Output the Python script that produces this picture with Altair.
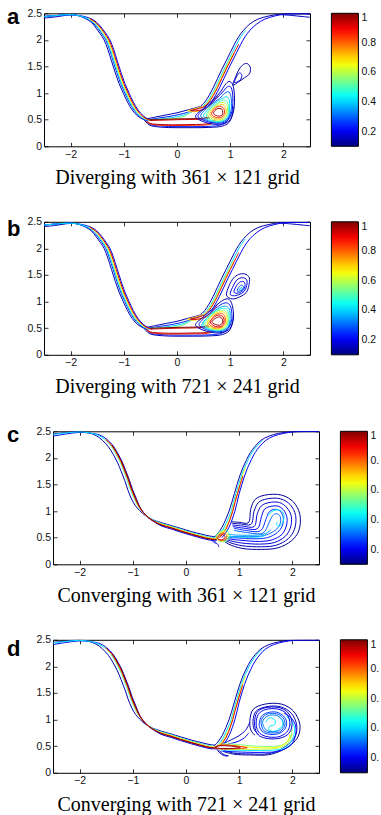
import altair as alt
import pandas as pd

# ---------------- colour map (jet) and ticks ----------------
JET_COLORS = ["#00007f", "#0000ff", "#00ffff", "#ffff00", "#ff0000", "#7f0000"]
JET_STOPS = [0.1, 0.2125, 0.4375, 0.6625, 0.8875, 1.0]
CBAR_TICKS = [0.2, 0.4, 0.6, 0.8, 1.0]
X_TICKS = [-2, -1, 0, 1, 2]
Y_TICKS = [0, 0.5, 1, 1.5, 2, 2.5]
TITLES = ["Diverging with 361 \u00d7 121 grid", "Diverging with 721 \u00d7 241 grid",
          "Converging with 361 \u00d7 121 grid", "Converging with 721 \u00d7 241 grid"]
LETTERS = ["a", "b", "c", "d"]

# ---------------- panels a / b : interface branches ----------------
AB_LB_Y = [2.44, 2.46, 2.475, 2.45, 2.40, 2.33, 2.22, 2.11, 2.0, 1.82, 1.6, 1.38, 1.18, 1.0, 0.83, 0.68, 0.57, 0.51, 0.485]
AB_LB_X_RED = [-2.5, -2.25, -2.0, -1.8, -1.64, -1.53, -1.43, -1.35, -1.28, -1.21, -1.14, -1.07, -1.0, -0.92, -0.84, -0.75, -0.65, -0.56, -0.48]
AB_LB_X_YEL = [-2.5, -2.25, -2.0, -1.81, -1.66, -1.55, -1.45, -1.37, -1.3, -1.23, -1.16, -1.09, -1.02, -0.94, -0.86, -0.77, -0.67, -0.58, -0.49]
AB_LB_X_CYA = [-2.5, -2.25, -2.0, -1.82, -1.68, -1.57, -1.47, -1.39, -1.32, -1.25, -1.18, -1.11, -1.04, -0.96, -0.88, -0.79, -0.69, -0.6, -0.51]
AB_LB_X_BL2 = [-2.5, -2.25, -2.0, -1.83, -1.7, -1.59, -1.49, -1.41, -1.34, -1.27, -1.2, -1.13, -1.06, -0.98, -0.9, -0.81, -0.71, -0.62, -0.52]
AB_LB_X_BL1 = [-2.5, -2.25, -2.0, -1.84, -1.72, -1.61, -1.52, -1.44, -1.37, -1.3, -1.23, -1.16, -1.09, -1.01, -0.93, -0.84, -0.74, -0.64, -0.54]
AB_LB_X_LOW = [-2.5, -2.25, -2.0, -1.79, -1.62, -1.51, -1.41, -1.33, -1.26, -1.19, -1.12, -1.05, -0.98, -0.9, -0.82, -0.73, -0.63, -0.54, -0.46]

AB_RB_Y = [2.49, 2.49, 2.485, 2.45, 2.39, 2.3, 2.18, 2.06, 1.92, 1.76, 1.6, 1.44, 1.27, 1.1, 0.95, 0.83, 0.75]
AB_RB_X_RED = [2.5, 2.2, 2.0, 1.8, 1.6, 1.45, 1.33, 1.24, 1.16, 1.08, 1.0, 0.92, 0.84, 0.76, 0.68, 0.6, 0.52]
AB_RB_X_YEL = [2.5, 2.2, 1.99, 1.78, 1.58, 1.43, 1.31, 1.22, 1.14, 1.06, 0.98, 0.9, 0.82, 0.74, 0.66, 0.58, 0.5]
AB_RB_X_CYA = [2.5, 2.2, 1.97, 1.76, 1.56, 1.41, 1.29, 1.2, 1.12, 1.04, 0.96, 0.88, 0.8, 0.72, 0.64, 0.56, 0.48]
AB_RB_X_BL1 = [2.5, 2.2, 1.95, 1.73, 1.52, 1.37, 1.25, 1.16, 1.08, 1.0, 0.92, 0.84, 0.76, 0.68, 0.6, 0.52, 0.44]
AB_RB_X_LOW = [2.5, 2.2, 2.03, 1.84, 1.65, 1.5, 1.37, 1.28, 1.2, 1.12, 1.04, 0.96, 0.88, 0.8, 0.72, 0.65, 0.6]

AB_TOPL_X = [-2.5, -2.3, -2.1, -1.95]
AB_TOPL_Y = [2.41, 2.43, 2.46, 2.475]
AB_TOPR_X = [1.95, 2.15, 2.35, 2.5]
AB_TOPR_Y = [2.475, 2.46, 2.44, 2.425]

AB_BOT_TOP_X = [-0.5, -0.3, 0.0, 0.3, 0.5, 0.62]
AB_BOT_TOP_Y = [0.485, 0.49, 0.5, 0.505, 0.515, 0.53]
AB_BOT_TOP2_X = [-0.52, -0.3, 0.0, 0.3, 0.5, 0.6]
AB_BOT_TOP2_Y = [0.5, 0.505, 0.515, 0.52, 0.53, 0.55]
AB_BOT_BOT_X = [-0.56, -0.5, -0.3, 0.0, 0.3, 0.55, 0.65, 0.7]
AB_BOT_BOT_Y = [0.47, 0.43, 0.41, 0.405, 0.41, 0.42, 0.45, 0.5]
AB_BOT_BOT2_X = [-0.58, -0.5, -0.3, 0.0, 0.3, 0.58, 0.68, 0.73]
AB_BOT_BOT2_Y = [0.47, 0.42, 0.395, 0.39, 0.395, 0.405, 0.44, 0.5]
AB_BOT_LOW1_X = [-0.6, -0.5, -0.3, 0.0, 0.3, 0.6, 0.8, 0.92, 0.98, 1.0]
AB_BOT_LOW1_Y = [0.5, 0.41, 0.38, 0.37, 0.37, 0.375, 0.395, 0.45, 0.55, 0.65]
AB_BOT_LOW2_X = [-0.62, -0.52, -0.3, 0.0, 0.3, 0.6, 0.85, 0.98, 1.04, 1.06]
AB_BOT_LOW2_Y = [0.5, 0.4, 0.36, 0.35, 0.35, 0.355, 0.38, 0.45, 0.6, 0.75]

AB_FAN1_X = [-0.6, -0.4, -0.2, 0.0, 0.15, 0.3, 0.44]
AB_FAN1_Y = [0.51, 0.55, 0.59, 0.63, 0.67, 0.71, 0.75]
AB_FAN2_X = [-0.55, -0.35, -0.15, 0.05, 0.2, 0.33, 0.48]
AB_FAN2_Y = [0.5, 0.53, 0.56, 0.6, 0.64, 0.69, 0.75]
AB_FAN3_X = [-0.5, -0.3, -0.1, 0.1, 0.22, 0.32]
AB_FAN3_Y = [0.5, 0.515, 0.54, 0.58, 0.62, 0.67]
AB_FAN4_X = [-0.45, -0.2, 0.0, 0.15, 0.24]
AB_FAN4_Y = [0.5, 0.51, 0.53, 0.57, 0.63]
AB_LOBE_X = [0.52, 0.42, 0.32, 0.25, 0.3, 0.42, 0.55, 0.66, 0.76]
AB_LOBE_Y = [0.75, 0.71, 0.685, 0.675, 0.665, 0.675, 0.72, 0.82, 0.95]
AB_LOBE2_X = [0.5, 0.38, 0.27, 0.2, 0.27, 0.4, 0.55, 0.68]
AB_LOBE2_Y = [0.76, 0.72, 0.69, 0.67, 0.65, 0.66, 0.71, 0.82]

# ---------------- panel a : vortex and bulb ----------------
VA_1 = [(0.35, 0.55), (0.6, 0.43), (0.85, 0.42), (1.0, 0.5), (1.07, 0.7), (1.08, 0.95), (1.05, 1.15), (0.98, 1.22), (0.9, 1.15), (0.8, 1.0), (0.65, 0.85), (0.48, 0.7)]
VA_2 = [(0.4, 0.55), (0.62, 0.45), (0.85, 0.44), (0.98, 0.52), (1.04, 0.7), (1.05, 0.92), (1.02, 1.1), (0.95, 1.12), (0.86, 1.02), (0.74, 0.9), (0.58, 0.76), (0.46, 0.66)]
VA_3 = [(0.45, 0.56), (0.64, 0.46), (0.85, 0.46), (0.97, 0.54), (1.02, 0.7), (1.02, 0.9), (0.98, 1.02), (0.9, 1.0), (0.8, 0.9), (0.66, 0.8), (0.52, 0.68)]
VA_4 = [(0.5, 0.56), (0.66, 0.47), (0.85, 0.47), (0.96, 0.56), (0.99, 0.72), (0.98, 0.88), (0.92, 0.93), (0.82, 0.88), (0.7, 0.8), (0.57, 0.68)]
VA_5 = [(0.55, 0.57), (0.68, 0.48), (0.84, 0.48), (0.94, 0.57), (0.97, 0.72), (0.94, 0.84), (0.86, 0.87), (0.75, 0.8), (0.62, 0.7)]
VA_6 = [(0.58, 0.58), (0.7, 0.5), (0.84, 0.5), (0.93, 0.58), (0.95, 0.72), (0.91, 0.81), (0.82, 0.82), (0.72, 0.76), (0.63, 0.68)]
VA_7 = [(0.62, 0.59), (0.72, 0.52), (0.84, 0.52), (0.91, 0.6), (0.92, 0.71), (0.87, 0.78), (0.78, 0.77), (0.69, 0.71)]
VA_8 = [(0.65, 0.6), (0.74, 0.54), (0.84, 0.55), (0.89, 0.62), (0.88, 0.71), (0.82, 0.75), (0.74, 0.73), (0.68, 0.67)]
VA_9 = [(0.69, 0.61), (0.76, 0.57), (0.84, 0.58), (0.86, 0.64), (0.84, 0.7), (0.77, 0.71), (0.71, 0.67)]
VA_LEVELS = [0.14, 0.2, 0.3, 0.4, 0.5, 0.6, 0.72, 0.85, 0.97]
BULB_A1 = [(1.05, 1.15), (1.1, 1.3), (1.17, 1.45), (1.25, 1.54), (1.33, 1.55), (1.38, 1.47), (1.36, 1.36), (1.27, 1.29), (1.17, 1.22)]
BULB_A2 = [(1.08, 1.2), (1.13, 1.33), (1.18, 1.38), (1.22, 1.33), (1.18, 1.24)]

# ---------------- panel b : vortex and bulb ----------------
VB_1 = [(0.35, 0.55), (0.6, 0.43), (0.85, 0.42), (1.0, 0.5), (1.06, 0.68), (1.05, 0.88), (1.0, 1.02), (0.92, 1.05), (0.8, 0.98), (0.65, 0.85), (0.48, 0.7)]
VB_2 = [(0.42, 0.55), (0.62, 0.45), (0.85, 0.44), (0.98, 0.52), (1.03, 0.68), (1.02, 0.86), (0.97, 0.96), (0.88, 0.97), (0.76, 0.9), (0.6, 0.77), (0.48, 0.66)]
VB_3 = [(0.47, 0.55), (0.64, 0.46), (0.85, 0.46), (0.97, 0.54), (1.0, 0.7), (0.99, 0.84), (0.93, 0.91), (0.83, 0.9), (0.7, 0.82), (0.56, 0.69)]
VB_4 = [(0.5, 0.56), (0.66, 0.47), (0.85, 0.47), (0.95, 0.55), (0.98, 0.7), (0.96, 0.82), (0.9, 0.87), (0.8, 0.86), (0.68, 0.79), (0.56, 0.68)]
VB_5 = [(0.53, 0.56), (0.68, 0.48), (0.85, 0.48), (0.94, 0.56), (0.96, 0.7), (0.93, 0.8), (0.86, 0.84), (0.76, 0.82), (0.64, 0.74), (0.57, 0.65)]
VB_6 = [(0.57, 0.57), (0.7, 0.49), (0.84, 0.5), (0.92, 0.57), (0.94, 0.69), (0.91, 0.78), (0.83, 0.81), (0.73, 0.78), (0.63, 0.7)]
VB_7 = [(0.6, 0.58), (0.71, 0.51), (0.84, 0.52), (0.9, 0.59), (0.91, 0.69), (0.87, 0.76), (0.8, 0.78), (0.7, 0.74), (0.64, 0.66)]
VB_8 = [(0.63, 0.6), (0.73, 0.53), (0.84, 0.54), (0.88, 0.61), (0.88, 0.69), (0.83, 0.74), (0.75, 0.74), (0.67, 0.68)]
VB_9 = [(0.66, 0.61), (0.75, 0.56), (0.83, 0.57), (0.86, 0.63), (0.84, 0.69), (0.78, 0.71), (0.7, 0.67)]
VB_LEVELS = [0.14, 0.24, 0.36, 0.46, 0.56, 0.68, 0.8, 0.9, 0.98]
BB_1 = [(0.93, 1.12), (0.98, 1.3), (1.06, 1.44), (1.16, 1.51), (1.27, 1.52), (1.36, 1.45), (1.35, 1.3), (1.3, 1.17), (1.18, 1.09), (1.04, 1.05)]
BB_2 = [(1.0, 1.15), (1.06, 1.3), (1.13, 1.41), (1.23, 1.45), (1.31, 1.41), (1.31, 1.3), (1.26, 1.19), (1.16, 1.13), (1.06, 1.11)]
BB_3 = [(1.07, 1.18), (1.12, 1.3), (1.19, 1.37), (1.26, 1.37), (1.28, 1.3), (1.24, 1.21), (1.15, 1.16)]
BB_4 = [(1.13, 1.2), (1.17, 1.28), (1.22, 1.31), (1.25, 1.27), (1.22, 1.21)]
BB_5 = [(1.17, 1.22), (1.2, 1.26), (1.23, 1.25), (1.21, 1.22)]
BB_LEVELS = [0.14, 0.18, 0.22, 0.28, 0.36]

# ---------------- panels c / d : interface branches ----------------
CD_LB_X_RED = [-2.5, -2.25, -2.0, -1.8, -1.64, -1.51, -1.4, -1.31, -1.23, -1.16, -1.09, -1.03, -0.96, -0.89, -0.81, -0.71, -0.59, -0.45, -0.28, -0.1, 0.1, 0.28, 0.45, 0.58]
CD_LB_Y_RED = [2.43, 2.46, 2.49, 2.47, 2.43, 2.35, 2.24, 2.1, 1.95, 1.78, 1.6, 1.42, 1.25, 1.1, 0.98, 0.88, 0.8, 0.74, 0.69, 0.63, 0.57, 0.52, 0.48, 0.47]
CD_LB_X_DRD = [-2.5, -2.25, -2.0, -1.8, -1.63, -1.5, -1.39, -1.3, -1.22, -1.15, -1.08, -1.02, -0.95, -0.88, -0.8, -0.7, -0.58, -0.45, -0.28, -0.1, 0.1, 0.28, 0.45, 0.58]
CD_LB_Y_DRD = [2.425, 2.455, 2.485, 2.468, 2.43, 2.35, 2.24, 2.1, 1.95, 1.78, 1.6, 1.42, 1.25, 1.095, 0.975, 0.875, 0.795, 0.732, 0.682, 0.622, 0.562, 0.512, 0.472, 0.462]
CD_LB_X_YEL = [-2.5, -2.25, -2.0, -1.8, -1.65, -1.52, -1.41, -1.32, -1.24, -1.17, -1.1, -1.04, -0.97, -0.9, -0.82, -0.72, -0.6, -0.45, -0.28, -0.1, 0.1, 0.28, 0.45, 0.57]
CD_LB_Y_YEL = [2.435, 2.465, 2.49, 2.47, 2.43, 2.35, 2.24, 2.1, 1.95, 1.78, 1.6, 1.42, 1.25, 1.1, 0.99, 0.89, 0.81, 0.755, 0.705, 0.645, 0.585, 0.535, 0.495, 0.485]
CD_LB_X_CYA = [-2.5, -2.25, -2.0, -1.81, -1.66, -1.53, -1.42, -1.33, -1.25, -1.18, -1.11, -1.05, -0.98, -0.91, -0.83, -0.73, -0.6, -0.45, -0.28, -0.1, 0.1, 0.28, 0.45, 0.56]
CD_LB_Y_CYA = [2.44, 2.47, 2.49, 2.47, 2.43, 2.35, 2.24, 2.1, 1.95, 1.78, 1.6, 1.42, 1.25, 1.11, 1.0, 0.9, 0.82, 0.765, 0.715, 0.655, 0.595, 0.545, 0.505, 0.495]
CD_LB_X_BL1 = [-2.5, -2.25, -2.0, -1.83, -1.69, -1.57, -1.46, -1.37, -1.29, -1.22, -1.15, -1.09, -1.02, -0.95, -0.87, -0.77, -0.63, -0.47, -0.3, -0.1, 0.1, 0.3, 0.45, 0.55]
CD_LB_Y_BL1 = [2.45, 2.475, 2.495, 2.47, 2.42, 2.33, 2.21, 2.07, 1.92, 1.75, 1.57, 1.39, 1.22, 1.1, 1.01, 0.92, 0.84, 0.785, 0.735, 0.675, 0.615, 0.565, 0.53, 0.52]
CD_LB_X_LOW = [-2.5, -2.25, -2.0, -1.79, -1.62, -1.49, -1.38, -1.29, -1.21, -1.14, -1.07, -1.01, -0.94, -0.87, -0.79, -0.69, -0.57, -0.45, -0.28, -0.1, 0.1, 0.28, 0.45, 0.58]
CD_LB_Y_LOW = [2.41, 2.45, 2.48, 2.465, 2.43, 2.35, 2.24, 2.1, 1.95, 1.78, 1.6, 1.42, 1.25, 1.08, 0.96, 0.86, 0.78, 0.715, 0.665, 0.605, 0.545, 0.495, 0.455, 0.45]

CD_RB_Y = [2.495, 2.495, 2.49, 2.46, 2.41, 2.33, 2.22, 2.1, 1.97, 1.82, 1.66, 1.5, 1.33, 1.16, 1.0, 0.85, 0.7, 0.58, 0.5]
CD_RB_X_RED = [2.5, 2.2, 2.0, 1.8, 1.62, 1.47, 1.36, 1.27, 1.2, 1.13, 1.07, 1.02, 0.97, 0.92, 0.88, 0.83, 0.77, 0.7, 0.63]
CD_RB_X_YEL = [2.5, 2.2, 1.99, 1.79, 1.61, 1.46, 1.35, 1.26, 1.19, 1.12, 1.06, 1.01, 0.96, 0.91, 0.87, 0.82, 0.75, 0.68, 0.61]
CD_RB_X_CYA = [2.5, 2.2, 1.97, 1.77, 1.59, 1.44, 1.33, 1.24, 1.17, 1.1, 1.04, 0.99, 0.94, 0.89, 0.85, 0.79, 0.72, 0.65, 0.57]
CD_RB_X_BL1 = [2.5, 2.2, 1.95, 1.74, 1.56, 1.41, 1.3, 1.21, 1.14, 1.07, 1.01, 0.96, 0.91, 0.86, 0.81, 0.75, 0.68, 0.6, 0.52]
CD_RB_X_LOW = [2.5, 2.2, 2.03, 1.83, 1.65, 1.5, 1.39, 1.3, 1.23, 1.16, 1.1, 1.05, 1.0, 0.96, 0.92, 0.87, 0.81, 0.74, 0.67]

# ---------------- panel c : vortex ----------------
C_V0_X = [0.85, 1.0, 1.17, 1.22, 1.3, 1.48, 1.8, 2.02, 2.14, 2.12, 1.98, 1.73, 1.42, 1.05, 0.8, 0.7]
C_V0_Y = [0.8, 0.79, 0.78, 1.05, 1.22, 1.3, 1.3, 1.17, 0.94, 0.63, 0.44, 0.31, 0.28, 0.3, 0.38, 0.45]
C_V1_X = [0.86, 1.02, 1.22, 1.28, 1.36, 1.52, 1.78, 1.96, 2.06, 2.04, 1.92, 1.7, 1.42, 1.05, 0.82, 0.72]
C_V1_Y = [0.77, 0.76, 0.75, 1.0, 1.16, 1.23, 1.23, 1.12, 0.92, 0.66, 0.48, 0.36, 0.33, 0.35, 0.41, 0.46]
C_V2_X = [0.87, 1.05, 1.28, 1.34, 1.42, 1.56, 1.76, 1.9, 1.98, 1.96, 1.86, 1.66, 1.4, 1.05, 0.84, 0.74]
C_V2_Y = [0.74, 0.72, 0.71, 0.95, 1.1, 1.16, 1.16, 1.06, 0.9, 0.68, 0.52, 0.41, 0.38, 0.4, 0.44, 0.47]
C_V3_X = [0.88, 1.08, 1.34, 1.42, 1.48, 1.6, 1.74, 1.85, 1.9, 1.88, 1.8, 1.62, 1.38, 1.05, 0.86, 0.76]
C_V3_Y = [0.71, 0.68, 0.67, 0.9, 1.04, 1.09, 1.09, 1.0, 0.86, 0.7, 0.56, 0.46, 0.43, 0.45, 0.47, 0.49]
C_V4_X = [0.9, 1.1, 1.4, 1.5, 1.56, 1.64, 1.74, 1.81, 1.83, 1.8, 1.72, 1.56, 1.35, 1.05, 0.88, 0.78]
C_V4_Y = [0.68, 0.64, 0.63, 0.84, 0.98, 1.03, 1.02, 0.94, 0.82, 0.7, 0.6, 0.51, 0.48, 0.49, 0.5, 0.5]
C_V5_X = [0.9, 1.12, 1.45, 1.56, 1.62, 1.68, 1.75, 1.78, 1.76, 1.68, 1.5, 1.3, 1.05, 0.88, 0.8]
C_V5_Y = [0.64, 0.6, 0.59, 0.78, 0.9, 0.95, 0.93, 0.85, 0.74, 0.64, 0.55, 0.52, 0.52, 0.52, 0.51]
C_HOOK_X = [1.55, 1.6, 1.68, 1.76, 1.83, 1.84, 1.8, 1.75, 1.7, 1.72]
C_HOOK_Y = [0.92, 0.98, 1.02, 1.02, 0.96, 0.86, 0.76, 0.72, 0.75, 0.8]
C_ARM_X = [0.75, 0.9, 1.1, 1.3, 1.42, 1.5]
C_ARM_Y = [0.52, 0.515, 0.51, 0.51, 0.52, 0.55]
C_ARM2_X = [0.78, 0.95, 1.15, 1.35, 1.5, 1.6]
C_ARM2_Y = [0.56, 0.55, 0.545, 0.55, 0.58, 0.65]
C_J1 = [(0.6, 0.48), (0.66, 0.46), (0.72, 0.48), (0.73, 0.53), (0.68, 0.56), (0.62, 0.53)]
C_J2 = [(0.58, 0.49), (0.66, 0.445), (0.74, 0.47), (0.76, 0.54), (0.7, 0.59), (0.62, 0.56)]
C_J3 = [(0.57, 0.49), (0.66, 0.435), (0.76, 0.46), (0.79, 0.55), (0.72, 0.62), (0.62, 0.58)]
C_J4 = [(0.56, 0.5), (0.66, 0.425), (0.78, 0.45), (0.82, 0.56), (0.74, 0.65), (0.62, 0.6)]
C_T1_X = [0.5, 0.55, 0.6, 0.62]
C_T1_Y = [0.47, 0.42, 0.37, 0.33]
C_T2_X = [0.47, 0.52, 0.56]
C_T2_Y = [0.46, 0.42, 0.39]

# ---------------- panel d : spiral vortex ----------------
D_OUT_X = [0.7, 0.9, 1.2, 1.55, 1.8, 1.98, 2.11, 2.14, 2.02, 1.8, 1.48, 1.26, 1.2, 1.22, 1.3]
D_OUT_Y = [0.4, 0.35, 0.335, 0.34, 0.42, 0.53, 0.69, 0.91, 1.16, 1.29, 1.29, 1.19, 0.97, 0.8, 0.7]
D_OUT2_X = [0.72, 0.9, 1.2, 1.55, 1.78, 1.94, 2.06, 2.08, 1.98, 1.78, 1.5, 1.31, 1.26, 1.28, 1.36]
D_OUT2_Y = [0.42, 0.37, 0.355, 0.36, 0.44, 0.55, 0.7, 0.9, 1.12, 1.24, 1.24, 1.15, 0.97, 0.82, 0.72]
D_RING1 = [(1.29, 0.96), (1.33, 1.13), (1.48, 1.22), (1.73, 1.23), (1.91, 1.14), (1.99, 0.97), (1.97, 0.8), (1.87, 0.69), (1.7, 0.64), (1.5, 0.65), (1.36, 0.71), (1.3, 0.83)]
D_RING2 = [(1.32, 0.95), (1.36, 1.1), (1.5, 1.19), (1.72, 1.2), (1.88, 1.12), (1.95, 0.97), (1.93, 0.82), (1.84, 0.72), (1.7, 0.67), (1.52, 0.68), (1.39, 0.74), (1.33, 0.84)]
D_RING3 = [(1.38, 0.95), (1.42, 1.06), (1.53, 1.13), (1.7, 1.14), (1.83, 1.07), (1.89, 0.96), (1.87, 0.84), (1.79, 0.76), (1.67, 0.72), (1.53, 0.73), (1.43, 0.78), (1.38, 0.87)]
D_RING4 = [(1.44, 0.95), (1.48, 1.03), (1.57, 1.08), (1.7, 1.08), (1.79, 1.02), (1.83, 0.94), (1.81, 0.85), (1.73, 0.79), (1.63, 0.77), (1.53, 0.79), (1.47, 0.85)]
D_RING5 = [(1.41, 0.95), (1.45, 1.05), (1.55, 1.11), (1.7, 1.11), (1.81, 1.05), (1.86, 0.95), (1.84, 0.85), (1.76, 0.77), (1.65, 0.75), (1.53, 0.76), (1.45, 0.81)]
D_CY1_X = [1.5, 1.55, 1.62, 1.68, 1.66, 1.58, 1.55, 1.62, 1.72]
D_CY1_Y = [0.95, 1.02, 1.03, 0.97, 0.9, 0.88, 0.82, 0.78, 0.8]
D_CY2_X = [1.75, 1.8, 1.82, 1.78, 1.72]
D_CY2_Y = [1.05, 1.0, 0.92, 0.85, 0.82]
D_TY_X = [0.6, 0.8, 1.0, 1.2, 1.4, 1.6, 1.75, 1.86, 1.93, 1.95]
D_TY_Y = [0.525, 0.52, 0.5, 0.48, 0.47, 0.47, 0.49, 0.55, 0.63, 0.72]
D_TG_X = [0.62, 0.85, 1.1, 1.35, 1.6, 1.78, 1.9, 1.97, 1.99, 1.95]
D_TG_Y = [0.545, 0.54, 0.52, 0.5, 0.495, 0.515, 0.58, 0.7, 0.83, 0.93]
D_TY2_X = [0.62, 0.8, 1.0, 1.2, 1.4, 1.6, 1.76, 1.88, 1.96, 1.99]
D_TY2_Y = [0.45, 0.44, 0.44, 0.44, 0.445, 0.45, 0.47, 0.53, 0.62, 0.73]
D_TC_X = [0.65, 0.9, 1.15, 1.4, 1.62, 1.8, 1.94, 2.02, 2.04, 1.98, 1.88]
D_TC_Y = [0.43, 0.425, 0.42, 0.42, 0.425, 0.45, 0.54, 0.68, 0.84, 0.98, 1.06]
D_TB_X = [0.66, 0.9, 1.2, 1.5, 1.72, 1.88, 2.0, 2.06, 2.06, 1.98, 1.84]
D_TB_Y = [0.41, 0.395, 0.385, 0.385, 0.4, 0.46, 0.56, 0.72, 0.88, 1.03, 1.12]
D_J1 = [(0.55, 0.48), (0.65, 0.51), (0.8, 0.505), (0.95, 0.49), (1.02, 0.475), (0.9, 0.46), (0.75, 0.455), (0.62, 0.46)]
D_J2 = [(0.54, 0.48), (0.65, 0.52), (0.85, 0.515), (1.05, 0.49), (1.15, 0.47), (1.0, 0.455), (0.8, 0.448), (0.62, 0.452)]
D_W1_X = [0.7, 0.85, 1.0, 1.12, 1.2]
D_W1_Y = [0.55, 0.62, 0.7, 0.8, 0.95]
D_W2_X = [0.72, 0.88, 1.0, 1.1, 1.18]
D_W2_Y = [0.52, 0.56, 0.6, 0.66, 0.75]
D_T1_X = [0.6, 0.66, 0.72, 0.8]
D_T1_Y = [0.44, 0.38, 0.34, 0.32]
D_T2_X = [0.58, 0.64, 0.7, 0.78]
D_T2_Y = [0.44, 0.37, 0.33, 0.31]


def rows(name, level, xs, ys):
    return [{"cid": name, "level": level, "i": i, "x": x, "y": y}
            for i, (x, y) in enumerate(zip(xs, ys))]


def loop_rows(name, level, pts):
    return rows(name, level, [p[0] for p in pts], [p[1] for p in pts])


def ab_open():
    return [
        ("lb_bl1", 0.14, AB_LB_X_BL1, AB_LB_Y),
        ("lb_bl2", 0.26, AB_LB_X_BL2, AB_LB_Y),
        ("lb_cya", 0.42, AB_LB_X_CYA, AB_LB_Y),
        ("lb_yel", 0.66, AB_LB_X_YEL[4:], AB_LB_Y[4:]),
        ("lb_red", 0.93, AB_LB_X_RED[4:], AB_LB_Y[4:]),
        ("lb_low", 0.2, AB_LB_X_LOW, AB_LB_Y),
        ("rb_bl1", 0.14, AB_RB_X_BL1, AB_RB_Y),
        ("rb_cya", 0.4, AB_RB_X_CYA[6:], AB_RB_Y[6:]),
        ("rb_yel", 0.66, AB_RB_X_YEL[9:], AB_RB_Y[9:]),
        ("rb_red", 0.93, AB_RB_X_RED[8:], AB_RB_Y[8:]),
        ("rb_low", 0.2, AB_RB_X_LOW, AB_RB_Y),
        ("top_l", 0.16, AB_TOPL_X, AB_TOPL_Y),
        ("top_r", 0.16, AB_TOPR_X, AB_TOPR_Y),
        ("bot_top", 0.93, AB_BOT_TOP_X, AB_BOT_TOP_Y),
        ("bot_top2", 1.0, AB_BOT_TOP2_X, AB_BOT_TOP2_Y),
        ("bot_bot", 0.95, AB_BOT_BOT_X, AB_BOT_BOT_Y),
        ("bot_bot2", 0.85, AB_BOT_BOT2_X, AB_BOT_BOT2_Y),
        ("bot_low1", 0.24, AB_BOT_LOW1_X, AB_BOT_LOW1_Y),
        ("bot_low2", 0.14, AB_BOT_LOW2_X, AB_BOT_LOW2_Y),
        ("fan1", 0.14, AB_FAN1_X, AB_FAN1_Y),
        ("fan2", 0.24, AB_FAN2_X, AB_FAN2_Y),
        ("fan3", 0.4, AB_FAN3_X, AB_FAN3_Y),
        ("fan4", 0.55, AB_FAN4_X, AB_FAN4_Y),
        ("lobe2", 0.7, AB_LOBE2_X, AB_LOBE2_Y),
        ("lobe", 0.92, AB_LOBE_X, AB_LOBE_Y),
    ]


def cd_open():
    return [
        ("lb_bl1", 0.14, CD_LB_X_BL1, CD_LB_Y_BL1),
        ("lb_cya", 0.42, CD_LB_X_CYA, CD_LB_Y_CYA),
        ("lb_yel", 0.66, CD_LB_X_YEL[5:], CD_LB_Y_YEL[5:]),
        ("lb_red", 0.9, CD_LB_X_RED[5:], CD_LB_Y_RED[5:]),
        ("lb_drd", 1.0, CD_LB_X_DRD[6:], CD_LB_Y_DRD[6:]),
        ("lb_low", 0.2, CD_LB_X_LOW, CD_LB_Y_LOW),
        ("rb_bl1", 0.14, CD_RB_X_BL1, CD_RB_Y),
        ("rb_cya", 0.4, CD_RB_X_CYA[5:], CD_RB_Y[5:]),
        ("rb_yel", 0.66, CD_RB_X_YEL[9:], CD_RB_Y[9:]),
        ("rb_red", 0.92, CD_RB_X_RED[10:], CD_RB_Y[10:]),
        ("rb_low", 0.2, CD_RB_X_LOW, CD_RB_Y),
    ]


PANEL_OPEN = [
    ab_open(),
    ab_open(),
    cd_open() + [
        ("v0", 0.12, C_V0_X, C_V0_Y), ("v1", 0.15, C_V1_X, C_V1_Y),
        ("v2", 0.18, C_V2_X, C_V2_Y), ("v3", 0.21, C_V3_X, C_V3_Y),
        ("v4", 0.25, C_V4_X, C_V4_Y), ("v5", 0.3, C_V5_X, C_V5_Y),
        ("hook", 0.42, C_HOOK_X, C_HOOK_Y), ("arm", 0.4, C_ARM_X, C_ARM_Y),
        ("arm2", 0.35, C_ARM2_X, C_ARM2_Y), ("t1", 0.15, C_T1_X, C_T1_Y),
        ("t2", 0.2, C_T2_X, C_T2_Y),
    ],
    cd_open() + [
        ("out", 0.12, D_OUT_X, D_OUT_Y), ("out2", 0.16, D_OUT2_X, D_OUT2_Y),
        ("cy1", 0.42, D_CY1_X, D_CY1_Y), ("cy2", 0.45, D_CY2_X, D_CY2_Y),
        ("tb", 0.22, D_TB_X, D_TB_Y), ("tc", 0.42, D_TC_X, D_TC_Y),
        ("tg", 0.55, D_TG_X, D_TG_Y), ("ty2", 0.6, D_TY2_X, D_TY2_Y),
        ("ty", 0.66, D_TY_X, D_TY_Y), ("w1", 0.15, D_W1_X, D_W1_Y),
        ("w2", 0.2, D_W2_X, D_W2_Y), ("t1", 0.14, D_T1_X, D_T1_Y),
        ("t2", 0.18, D_T2_X, D_T2_Y),
    ],
]

PANEL_LOOPS = [
    [("va%d" % k, lev, pts) for k, (lev, pts) in enumerate(zip(VA_LEVELS, [VA_1, VA_2, VA_3, VA_4, VA_5, VA_6, VA_7, VA_8, VA_9]))]
    + [("bulb1", 0.14, BULB_A1), ("bulb2", 0.17, BULB_A2)],
    [("vb%d" % k, lev, pts) for k, (lev, pts) in enumerate(zip(VB_LEVELS, [VB_1, VB_2, VB_3, VB_4, VB_5, VB_6, VB_7, VB_8, VB_9]))]
    + [("bb%d" % k, lev, pts) for k, (lev, pts) in enumerate(zip(BB_LEVELS, [BB_1, BB_2, BB_3, BB_4, BB_5]))],
    [("j4", 0.5, C_J4), ("j3", 0.65, C_J3), ("j2", 0.8, C_J2), ("j1", 0.95, C_J1)],
    [("r1", 0.17, D_RING1), ("r2", 0.2, D_RING2), ("r3", 0.26, D_RING3),
     ("r5", 0.29, D_RING5), ("r4", 0.32, D_RING4),
     ("j2", 0.85, D_J2), ("j1", 0.98, D_J1)],
]

PLOT_W, PLOT_H = 266, 133
SPACER_W = [19, 19, 28, 28]
AXIS_EXTENT = 19.4
LETTER_DY = [11, 14, 11, 16]

LABEL_FONT = "Liberation Sans"
TITLE_FONT = "Liberation Serif"


def make_panel(k):
    o_rows = []
    for name, lev, xs, ys in PANEL_OPEN[k]:
        o_rows += rows(name, lev, xs, ys)
    c_rows = []
    for name, lev, pts in PANEL_LOOPS[k]:
        c_rows += loop_rows(name, lev, pts)
    df_o = pd.DataFrame(o_rows).sort_values(["level", "cid", "i"])
    df_c = pd.DataFrame(c_rows).sort_values(["level", "cid", "i"])

    xs = alt.Scale(domain=[-2.5, 2.5], nice=False, zero=False)
    ys = alt.Scale(domain=[0, 2.5], nice=False, zero=False)
    cs = alt.Scale(domain=JET_STOPS, range=JET_COLORS, interpolate="rgb")

    leg_kw = dict(title=None, orient="none",
                  legendX=SPACER_W[k] + AXIS_EXTENT + PLOT_W + 20, legendY=0,
                  padding=0, direction="vertical", type="gradient", gradientLength=PLOT_H,
                  gradientThickness=27, gradientStrokeColor="black", gradientStrokeWidth=1,
                  values=CBAR_TICKS, format="~g", labelFont=LABEL_FONT, labelFontSize=10.5,
                  labelColor="#111", labelOffset=3, labelOverlap=False)
    if k >= 2:
        leg_kw["labelExpr"] = "substring(datum.label, 0, 2)"
    legend = alt.Legend(**leg_kw)

    tick_kw = dict(offset=-4, tickSize=4, tickColor="black", tickWidth=0.8,
                   domain=False, grid=False, minExtent=0)
    ax_bottom = alt.Axis(orient="bottom", values=X_TICKS, format="~g", labelPadding=3,
                         labelFont=LABEL_FONT, labelFontSize=10.5, labelColor="#111",
                         title=TITLES[k], titleFont=TITLE_FONT, titleFontSize=20,
                         titleFontWeight="normal", titleColor="black", titlePadding=8,
                         **tick_kw)
    ax_left = alt.Axis(orient="left", values=Y_TICKS, format="~g", labelPadding=2.5,
                       labelFont=LABEL_FONT, labelFontSize=10.5, labelColor="#111",
                       title=None, **tick_kw)
    ax_top = alt.Axis(orient="top", values=X_TICKS, labels=False, title=None,
                      maxExtent=0, labelPadding=0, **tick_kw)
    ax_right = alt.Axis(orient="right", values=Y_TICKS, labels=False, title=None,
                        maxExtent=0, labelPadding=0, **tick_kw)

    color = alt.Color("level:Q", scale=cs, legend=legend)
    open_lines = alt.Chart(df_o).mark_line(interpolate="catmull-rom", strokeWidth=1, clip=True).encode(
        x=alt.X("x:Q", scale=xs, axis=ax_bottom),
        y=alt.Y("y:Q", scale=ys, axis=ax_left),
        color=color, detail="cid:N", order="i:Q")
    loops = alt.Chart(df_c).mark_line(interpolate="cardinal-closed", strokeWidth=1, clip=True).encode(
        x=alt.X("x:Q", scale=xs, axis=ax_top),
        y=alt.Y("y:Q", scale=ys, axis=ax_right),
        color=color, detail="cid:N", order="i:Q")
    layered = alt.layer(open_lines, loops).resolve_axis(
        x="independent", y="independent").properties(width=PLOT_W, height=PLOT_H)

    one = pd.DataFrame({"k": [0]})
    spacer = alt.Chart(one).mark_text(align="left", baseline="alphabetic", fontSize=22,
                                      fontWeight="bold", font=LABEL_FONT, color="black").encode(
        x=alt.value(0), y=alt.value(LETTER_DY[k]), text=alt.value(LETTERS[k])
    ).properties(width=SPACER_W[k], height=PLOT_H,
                 view=alt.ViewBackground(strokeOpacity=0, fillOpacity=0))
    return alt.hconcat(spacer, layered, spacing=0)


chart = alt.vconcat(*[make_panel(k) for k in range(4)], spacing=27.5).properties(
    padding={"left": 7, "top": 6.3, "right": 0, "bottom": 0}, background="white"
).resolve_scale(color="independent").configure_view(stroke="black", strokeWidth=1)

chart.save("out.html", embed_options={"renderer": "svg", "actions": False})
